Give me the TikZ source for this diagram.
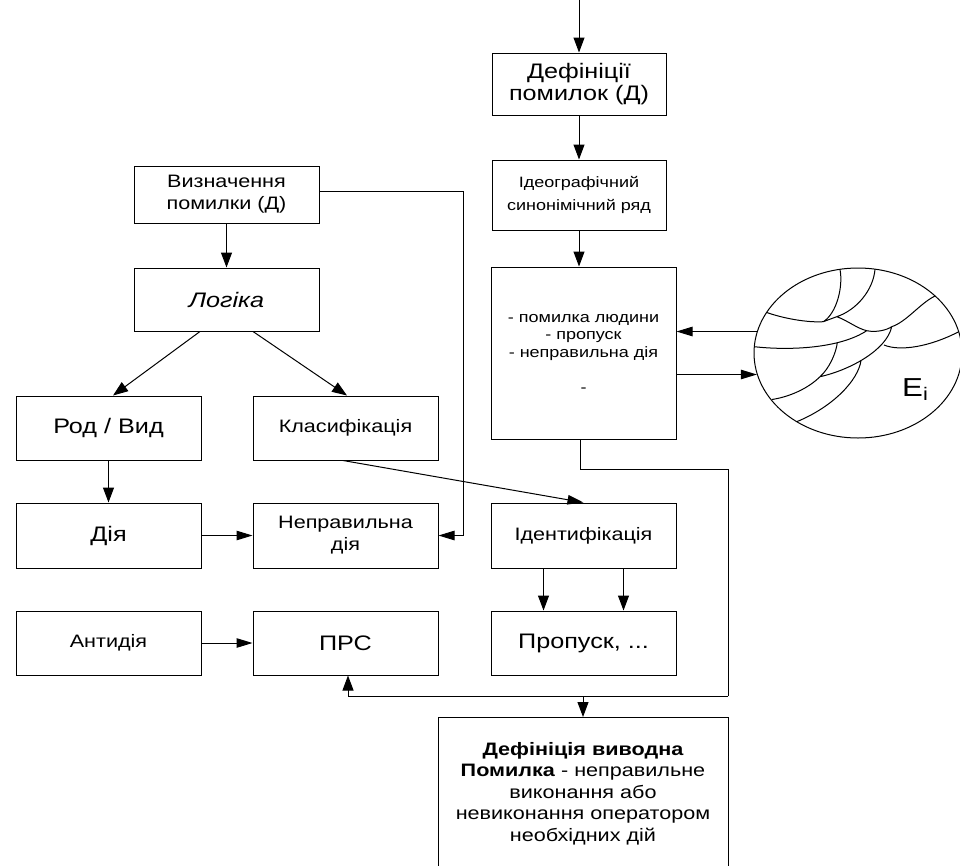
\documentclass[tikz,border=0pt]{standalone}
\usepackage{fontspec}
\setmainfont[FakeStretch=1.2]{Liberation Sans}
\usetikzlibrary{arrows.meta,shapes.geometric,calc}

\begin{document}
\begin{tikzpicture}[x=1pt,y=-1pt,
  ln/.style={line width=1pt},
  box/.style={draw,line width=1pt,inner sep=2pt,align=center,minimum width=185pt},
  arr/.style={-{Triangle[length=15pt,width=11pt]},line width=1pt},
  harr/.style={-{Triangle[length=16pt,width=9.5pt]},line width=1pt},
  bigtxt/.style={font=\fontsize{21}{22}\selectfont},
  medtxt/.style={font=\fontsize{18}{22}\selectfont},
  smltxt/.style={font=\fontsize{15}{23}\selectfont}]
\clip (0,0) rectangle (960,865);

% right column
\coordinate (in) at (579,0);
\node[box,bigtxt,minimum width=174pt,minimum height=62pt] (def) at (579,84) {Дефініції\\помилок (Д)};
\node[box,smltxt,minimum width=174pt,minimum height=70pt] (ideo) at (579,195) {Ідеографічний\\синонімічний ряд};
\node[box,font=\fontsize{15}{17.5}\selectfont,minimum height=172pt] (list) at (583.5,353)
  {- помилка людини\\- пропуск\\- неправильна дія\\[17.5pt]-};
\node[box,medtxt,minimum height=65pt] (ident) at (583.5,535.5) {Ідентифікація};
\node[box,bigtxt,minimum height=64pt] (prop) at (583.5,643) {Пропуск, ...};
\node[box,font=\fontsize{18}{21.5}\selectfont,minimum width=290pt,minimum height=152pt,anchor=north] (fin) at (583,717)
  {\textbf{Дефініція виводна}\\\textbf{Помилка} - неправильне\\виконання або\\невиконання оператором\\необхідних дій};

% left columns
\node[box,medtxt,minimum height=57pt] (vyzn) at (226.5,194.5) {Визначення\\помилки (Д)};
\node[box,bigtxt,minimum height=63pt] (log) at (226.5,299.5) {\itshape Логіка};
\node[box,bigtxt,minimum height=64pt] (rod) at (108.5,428) {Род / Вид};
\node[box,medtxt,minimum height=64pt] (klas) at (345.5,428) {Класифікація};
\node[box,bigtxt,minimum height=65pt] (diya) at (108.5,535.5) {Дія};
\node[box,medtxt,minimum height=65pt] (nepr) at (345.5,535.5) {Неправильна\\дія};
\node[box,medtxt,minimum height=64pt] (anty) at (108.5,643) {Антидія};
\node[box,bigtxt,minimum height=64pt] (prs) at (345.5,643) {ПРС};

% set of errors
\node[draw,ln,ellipse,minimum width=208pt,minimum height=170pt,inner sep=0pt] (ell) at (858,353) {};
\node[anchor=base west,inner sep=0pt,font=\fontsize{26}{26}\selectfont] (ei) at (902,396) {E\textsubscript{i}};
\draw[ln]
  (766.7,312.5) .. controls (783.3,318.3) and (806.7,322.7) .. (823.3,321.7)
  (823.3,321.7) .. controls (836.7,313.3) and (843.3,286.7) .. (840,269.5)
  (823.3,321.7) -- (836.7,316.7)
  (875,269.2) .. controls (873.3,290) and (856.7,310) .. (836.7,316.7)
  (836.7,316.7) .. controls (846.7,320) and (856.7,328.3) .. (866.7,330.7)
  (866.7,330.7) .. controls (876.7,332.7) and (886.7,330) .. (891.7,326.7)
  (891.7,326.7) .. controls (906.7,321.7) and (920,303.3) .. (935,296)
  (754.3,346.7) .. controls (790,350.7) and (840,348.3) .. (866.7,330.7)
  (891.7,326.7) .. controls (886.7,350) and (850,370) .. (820,376.7)
  (884,345) .. controls (900,351.7) and (930,346.7) .. (958.7,331.7)
  (837.3,342.6) .. controls (836,353.3) and (829.3,368.3) .. (820,376.7)
  (820,376.7) .. controls (808.3,388.3) and (790,396.7) .. (772,399.5)
  (861,360.5) .. controls (858.3,380) and (833.3,406.7) .. (796.7,421.7);

% connectors
\draw[arr] (in) -- (def.north);
\draw[arr] (def) -- (ideo);
\draw[arr] (ideo.south) -- (ideo.south |- list.north);
\draw[harr] (ell.168) -- (ell.168 -| list.east);
\draw[harr] (ell.192 -| list.east) -- (ell.192);
\draw[arr] (vyzn) -- (log);
\draw[arr] ([xshift=-26.5pt]log.south) -- ([xshift=4.5pt]rod.north);
\draw[arr] ([xshift=26.5pt]log.south) -- ([xshift=1.5pt]klas.north);
\draw[arr] (rod) -- (diya);
\draw[harr] (diya) -- (nepr);
\draw[harr] (anty) -- (prs);
\coordinate (vr) at (463,191);
\draw[harr] (vyzn.east |- vr) -- (vr) |- (nepr.east);
\draw[harr] ([xshift=-2.5pt]klas.south) -- (ident.north);
\draw[arr] ([xshift=-40pt]ident.south) -- ([xshift=-40pt]prop.north);
\draw[arr] ([xshift=40pt]ident.south) -- ([xshift=40pt]prop.north);
\coordinate (r1) at (728,469);
\coordinate (r2) at (728,696);
\draw[ln] ([xshift=-3pt]list.south) |- (r1) -- (r2);
\draw[arr] (r2) -| ([xshift=2.5pt]prs.south);
\draw[arr] (fin.north |- r2) -- (fin.north);
\end{tikzpicture}
\end{document}
